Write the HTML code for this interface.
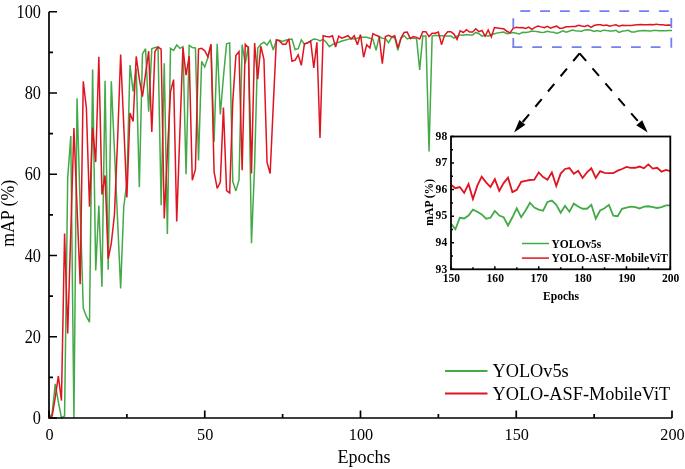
<!DOCTYPE html>
<html><head><meta charset="utf-8"><style>
html,body{margin:0;padding:0;background:#fff;}
body{width:685px;height:469px;overflow:hidden;}
svg{display:block;will-change:transform;}
text{font-family:"Liberation Serif",serif;fill:#000;}
.b{font-weight:bold;}
</style></head><body>
<svg width="685" height="469" viewBox="0 0 685 469">
<rect width="685" height="469" fill="#fff"/>

<polyline fill="none" stroke="#44aa48" stroke-width="1.50" stroke-linejoin="miter" stroke-miterlimit="3" points="49.00,418.00 52.12,413.94 55.23,383.88 58.34,401.75 61.46,418.00 64.58,415.97 67.69,178.31 70.81,136.06 73.92,418.00 77.03,98.28 80.15,206.75 83.27,308.31 86.38,316.44 89.50,322.12 92.61,69.44 95.72,270.53 98.84,205.53 101.95,286.78 105.07,80.81 108.19,269.72 111.30,81.22 114.42,149.88 117.53,218.94 120.64,288.41 123.76,206.75 126.88,182.38 129.99,64.97 133.11,91.37 136.22,68.62 139.33,187.25 142.45,54.00 145.56,48.72 148.68,111.69 151.80,48.72 154.91,47.50 158.03,47.09 161.14,205.12 164.25,63.34 167.37,233.97 170.49,48.31 173.60,50.34 176.72,45.06 179.83,48.31 182.94,46.69 186.06,174.25 189.18,45.47 192.29,47.50 195.41,47.91 198.52,160.44 201.63,61.31 204.75,67.00 207.87,57.66 210.98,44.66 214.09,141.75 217.21,43.84 220.32,114.53 223.44,76.75 226.56,43.84 229.67,43.03 232.78,181.56 235.90,190.91 239.01,179.94 242.13,44.66 245.25,63.34 248.36,46.28 251.47,243.31 254.59,166.12 257.71,48.31 260.82,44.25 263.94,42.22 267.05,45.06 270.16,40.19 273.28,49.94 276.39,40.19 279.51,40.19 282.62,41.41 285.74,40.19 288.86,39.38 291.97,38.97 295.09,49.53 298.20,48.72 301.31,39.78 304.43,44.25 307.55,42.62 310.66,41.00 313.77,38.97 316.89,39.38 320.00,41.00 323.12,39.38 326.24,42.22 329.35,46.69 332.46,44.66 335.58,43.03 338.69,42.22 341.81,41.00 344.93,40.19 348.04,39.38 351.15,38.56 354.27,38.97 357.38,38.16 360.50,37.34 363.62,37.34 366.73,37.34 369.85,38.16 372.96,39.38 376.07,50.34 379.19,36.53 382.31,38.16 385.42,38.56 388.54,42.62 391.65,37.34 394.76,37.75 397.88,50.34 401.00,38.16 404.11,35.72 407.23,38.97 410.34,37.75 413.45,38.16 416.57,38.56 419.69,69.84 422.80,36.12 425.92,36.12 429.03,151.50 432.14,36.12 435.26,35.31 438.38,35.72 441.49,35.72 444.61,36.12 447.72,36.12 450.83,36.12 453.95,38.16 457.06,36.12 460.18,34.91 463.30,35.31 466.41,34.50 469.52,34.91 472.64,34.91 475.75,32.47 478.87,33.69 481.99,36.12 485.10,35.31 488.21,36.12 491.33,34.50 494.44,33.69 497.56,32.88 500.68,32.47 503.79,32.06 506.90,33.69 510.02,33.28 513.13,32.47 516.25,33.20 519.37,34.06 522.48,32.31 525.60,32.42 528.71,31.97 531.83,31.05 534.94,31.37 538.06,31.79 541.17,32.45 544.29,32.31 547.40,31.27 550.51,31.97 553.63,32.23 556.75,33.49 559.86,32.23 562.98,30.87 566.09,32.23 569.21,31.19 572.32,30.01 575.43,30.74 578.55,31.05 581.66,31.23 584.78,29.89 587.89,29.67 591.01,30.33 594.12,31.54 597.24,30.48 600.36,31.37 603.47,30.15 606.59,30.59 609.70,30.93 612.82,30.93 615.93,30.33 619.04,32.43 622.16,31.19 625.27,30.85 628.39,30.33 631.50,31.99 634.62,32.06 637.74,30.93 640.85,30.74 643.97,30.59 647.08,30.67 650.20,30.88 653.31,30.59 656.42,30.54 659.54,30.67 662.65,30.81 665.77,30.67 668.88,30.41 672.00,30.41"/>
<polyline fill="none" stroke="#e01420" stroke-width="1.50" stroke-linejoin="miter" stroke-miterlimit="3" points="49.00,418.00 52.12,415.97 55.23,397.69 58.34,376.16 61.46,400.53 64.58,233.56 67.69,333.50 70.81,231.12 73.92,127.94 77.03,206.75 80.15,284.34 83.27,81.22 86.38,108.03 89.50,206.75 92.61,127.53 95.72,162.06 98.84,56.84 101.95,194.56 105.07,175.47 108.19,258.75 111.30,243.31 114.42,214.88 117.53,141.75 120.64,54.41 123.76,125.50 126.88,197.41 129.99,112.91 133.11,121.44 136.22,56.44 139.33,78.78 142.45,96.66 145.56,73.91 148.68,51.16 151.80,132.00 154.91,51.56 158.03,47.09 161.14,49.12 164.25,218.53 167.37,153.94 170.49,91.78 173.60,79.59 176.72,221.38 179.83,133.62 182.94,47.50 186.06,75.12 189.18,56.03 192.29,180.34 195.41,169.38 198.52,49.12 201.63,48.31 204.75,50.75 207.87,56.84 210.98,44.25 214.09,171.81 217.21,188.47 220.32,181.97 223.44,107.62 226.56,190.50 229.67,192.94 232.78,101.12 235.90,55.62 239.01,51.56 242.13,170.19 245.25,44.25 248.36,47.50 251.47,173.44 254.59,43.03 257.71,79.19 260.82,46.28 263.94,59.28 267.05,162.47 270.16,173.44 273.28,105.19 276.39,39.78 279.51,41.00 282.62,44.25 285.74,44.25 288.86,38.97 291.97,61.31 295.09,60.09 298.20,54.81 301.31,65.38 304.43,43.84 307.55,43.03 310.66,41.00 313.77,67.81 316.89,42.22 320.00,138.09 323.12,35.72 326.24,36.53 329.35,36.94 332.46,35.72 335.58,47.09 338.69,36.12 341.81,38.16 344.93,36.94 348.04,35.72 351.15,38.97 354.27,35.72 357.38,44.66 360.50,34.50 363.62,57.25 366.73,44.66 369.85,47.91 372.96,33.69 376.07,35.31 379.19,36.53 382.31,63.75 385.42,36.53 388.54,35.31 391.65,36.94 394.76,35.72 397.88,47.91 401.00,38.16 404.11,32.47 407.23,32.06 410.34,38.56 413.45,36.53 416.57,37.34 419.69,38.97 422.80,31.66 425.92,31.66 429.03,36.53 432.14,33.28 435.26,33.28 438.38,32.06 441.49,44.66 444.61,35.31 447.72,31.66 450.83,31.66 453.95,34.09 457.06,39.38 460.18,30.84 463.30,32.47 466.41,29.62 469.52,32.06 472.64,32.06 475.75,28.81 478.87,31.66 481.99,30.44 485.10,36.12 488.21,30.03 491.33,36.94 494.44,27.59 497.56,28.00 500.68,28.41 503.79,28.81 506.90,31.25 510.02,32.88 513.13,28.41 516.25,27.26 519.37,27.79 522.48,27.60 525.60,28.49 528.71,27.14 531.83,29.44 534.94,27.40 538.06,26.01 541.17,26.88 544.29,27.60 547.40,26.41 550.51,28.18 553.63,27.00 556.75,26.18 559.86,28.38 562.98,28.05 566.09,26.82 569.21,26.67 572.32,26.53 575.43,26.48 578.55,25.36 581.66,26.08 584.78,26.48 587.89,25.36 591.01,27.45 594.12,25.55 597.24,24.84 600.36,24.70 603.47,25.58 606.59,25.10 609.70,26.22 612.82,25.36 615.93,24.73 619.04,26.22 622.16,25.18 625.27,25.44 628.39,25.49 631.50,25.49 634.62,25.10 637.74,24.84 640.85,24.52 643.97,24.67 647.08,24.66 650.20,24.47 653.31,24.73 656.42,24.14 659.54,24.78 662.65,24.66 665.77,25.26 668.88,25.00 672.00,25.18"/>
<path d="M49.00,11.75 V418.00 H672.00" fill="none" stroke="#000" stroke-width="1.7"/>
<path d="M49.00,418.00 h8 M49.00,377.38 h4 M49.00,336.75 h8 M49.00,296.12 h4 M49.00,255.50 h8 M49.00,214.88 h4 M49.00,174.25 h8 M49.00,133.62 h4 M49.00,93.00 h8 M49.00,52.38 h4 M49.00,11.75 h8 M49.00,418.00 v-7.5 M126.88,418.00 v-4.0 M204.75,418.00 v-7.5 M282.62,418.00 v-4.0 M360.50,418.00 v-7.5 M438.38,418.00 v-4.0 M516.25,418.00 v-7.5 M594.12,418.00 v-4.0 M672.00,418.00 v-7.5" stroke="#000" stroke-width="1.7" fill="none"/>
<text transform="translate(41.00,424.10) scale(0.930,1.100)" font-size="17.50" text-anchor="end">0</text>
<text transform="translate(41.00,342.85) scale(0.930,1.100)" font-size="17.50" text-anchor="end">20</text>
<text transform="translate(41.00,261.60) scale(0.930,1.100)" font-size="17.50" text-anchor="end">40</text>
<text transform="translate(41.00,180.35) scale(0.930,1.100)" font-size="17.50" text-anchor="end">60</text>
<text transform="translate(41.00,99.10) scale(0.930,1.100)" font-size="17.50" text-anchor="end">80</text>
<text transform="translate(41.00,17.85) scale(0.930,1.100)" font-size="17.50" text-anchor="end">100</text>
<text transform="translate(49.50,439.60) scale(0.930,1.000)" font-size="17.50" text-anchor="middle">0</text>
<text transform="translate(205.25,439.60) scale(0.930,1.000)" font-size="17.50" text-anchor="middle">50</text>
<text transform="translate(361.00,439.60) scale(0.930,1.000)" font-size="17.50" text-anchor="middle">100</text>
<text transform="translate(516.75,439.60) scale(0.930,1.000)" font-size="17.50" text-anchor="middle">150</text>
<text transform="translate(672.50,439.60) scale(0.930,1.000)" font-size="17.50" text-anchor="middle">200</text>
<text x="364" y="463.2" font-size="18" text-anchor="middle">Epochs</text>
<text transform="translate(13.8,213.3) rotate(-90)" font-size="17.8" text-anchor="middle">mAP (%)</text>
<line x1="445" y1="371" x2="487.5" y2="371" stroke="#44aa48" stroke-width="1.8"/>
<line x1="445" y1="393.5" x2="487.5" y2="393.5" stroke="#e01420" stroke-width="1.8"/>
<text x="492.5" y="377" font-size="18.3">YOLOv5s</text>
<text x="492.5" y="399.7" font-size="18.3">YOLO-ASF-MobileViT</text>
<g stroke="#7380ef" stroke-width="1.8" fill="none">
<line x1="540.1" y1="11.05" x2="671.6" y2="11.05" stroke-dasharray="9.9 9.9"/>
<line x1="520.3" y1="11.05" x2="530.2" y2="11.05"/>
<line x1="512.5" y1="47.2" x2="662" y2="47.2" stroke-dasharray="9.8 9.95"/>
<line x1="513.3" y1="18.2" x2="513.3" y2="48.1" stroke-dasharray="9.7 10.2"/>
<line x1="671.3" y1="18.0" x2="671.3" y2="48.1" stroke-dasharray="9.9 9.9"/>
</g>
<line x1="579.60" y1="53.30" x2="520.48" y2="124.70" stroke="#000" stroke-width="2" stroke-dasharray="10 9.8"/>
<polygon points="514.10,132.40 519.39,119.90 525.40,124.87" fill="#000"/>
<line x1="579.60" y1="53.30" x2="641.18" y2="125.01" stroke="#000" stroke-width="2" stroke-dasharray="10 9.8"/>
<polygon points="647.70,132.60 636.27,125.28 642.19,120.20" fill="#000"/>
<rect x="451.00" y="136.50" width="219.30" height="132.80" fill="#fff" stroke="none"/>
<polyline fill="none" stroke="#44aa48" stroke-width="1.8" points="451.00,223.60 455.39,229.21 459.77,217.78 464.16,218.49 468.54,215.58 472.93,209.57 477.32,211.67 481.70,214.38 486.09,218.69 490.47,217.78 494.86,210.97 499.25,215.58 503.63,217.28 508.02,225.50 512.40,217.28 516.79,208.36 521.18,217.28 525.56,210.47 529.95,202.75 534.33,207.56 538.72,209.57 543.11,210.77 547.49,201.95 551.88,200.54 556.26,204.85 560.65,212.77 565.04,205.86 569.42,211.67 573.81,203.65 578.19,206.56 582.58,208.76 586.97,208.76 591.35,204.85 595.74,218.59 600.12,210.47 604.51,208.26 608.90,204.85 613.28,215.68 617.67,216.18 622.05,208.76 626.44,207.56 630.83,206.56 635.21,207.06 639.60,208.46 643.98,206.56 648.37,206.26 652.76,207.06 657.14,207.96 661.53,207.06 665.91,205.36 670.30,205.36"/>
<polyline fill="none" stroke="#e01420" stroke-width="1.8" points="451.00,184.81 455.39,188.22 459.77,187.01 464.16,192.83 468.54,184.01 472.93,199.04 477.32,185.71 481.70,176.59 486.09,182.30 490.47,187.01 494.86,179.20 499.25,190.82 503.63,183.11 508.02,177.69 512.40,192.13 516.79,189.92 521.18,181.90 525.56,180.90 529.95,180.00 534.33,179.70 538.72,172.38 543.11,177.09 547.49,179.70 551.88,172.38 556.26,186.01 560.65,173.58 565.04,168.97 569.42,168.07 573.81,173.78 578.19,170.68 582.58,177.99 586.97,172.38 591.35,168.27 595.74,177.99 600.12,171.18 604.51,172.88 608.90,173.18 613.28,173.18 617.67,170.68 622.05,168.97 626.44,166.87 630.83,167.87 635.21,167.77 639.60,166.57 643.98,168.27 648.37,164.36 652.76,168.57 657.14,167.77 661.53,171.68 665.91,169.98 670.30,171.18"/>
<rect x="451.00" y="136.50" width="219.30" height="132.80" fill="none" stroke="#000" stroke-width="1.8"/>
<path d="M451.00,269.30 h3 M451.00,256.02 h2 M451.00,242.74 h3 M451.00,229.46 h2 M451.00,216.18 h3 M451.00,202.90 h2 M451.00,189.62 h3 M451.00,176.34 h2 M451.00,163.06 h3 M451.00,149.78 h2 M451.00,136.50 h3 M451.00,269.30 v-3 M472.93,269.30 v-2 M494.86,269.30 v-3 M516.79,269.30 v-2 M538.72,269.30 v-3 M560.65,269.30 v-2 M582.58,269.30 v-3 M604.51,269.30 v-2 M626.44,269.30 v-3 M648.37,269.30 v-2 M670.30,269.30 v-3" stroke="#000" stroke-width="1.5" fill="none"/>
<text class="b" transform="translate(447.2,272.60) scale(1,1.120)" font-size="11.60" text-anchor="end">93</text>
<text class="b" transform="translate(447.2,246.04) scale(1,1.120)" font-size="11.60" text-anchor="end">94</text>
<text class="b" transform="translate(447.2,219.48) scale(1,1.120)" font-size="11.60" text-anchor="end">95</text>
<text class="b" transform="translate(447.2,192.92) scale(1,1.120)" font-size="11.60" text-anchor="end">96</text>
<text class="b" transform="translate(447.2,166.36) scale(1,1.120)" font-size="11.60" text-anchor="end">97</text>
<text class="b" transform="translate(447.2,139.80) scale(1,1.120)" font-size="11.60" text-anchor="end">98</text>
<text class="b" transform="translate(451.40,281.6) scale(1,1.120)" font-size="11.60" text-anchor="middle">150</text>
<text class="b" transform="translate(495.26,281.6) scale(1,1.120)" font-size="11.60" text-anchor="middle">160</text>
<text class="b" transform="translate(539.12,281.6) scale(1,1.120)" font-size="11.60" text-anchor="middle">170</text>
<text class="b" transform="translate(582.98,281.6) scale(1,1.120)" font-size="11.60" text-anchor="middle">180</text>
<text class="b" transform="translate(626.84,281.6) scale(1,1.120)" font-size="11.60" text-anchor="middle">190</text>
<text class="b" transform="translate(670.70,281.6) scale(1,1.120)" font-size="11.60" text-anchor="middle">200</text>
<text class="b" x="561" y="300.3" font-size="11.6" text-anchor="middle">Epochs</text>
<text class="b" transform="translate(432.7,202.3) rotate(-90)" font-size="11.6" text-anchor="middle">mAP (%)</text>
<line x1="521.9" y1="243.5" x2="549" y2="243.5" stroke="#44aa48" stroke-width="1.5"/>
<line x1="521.9" y1="258.1" x2="549" y2="258.1" stroke="#e01420" stroke-width="1.5"/>
<text class="b" x="551.4" y="247.6" font-size="11.5">YOLOv5s</text>
<text class="b" x="551.4" y="261.7" font-size="11.5">YOLO-ASF-MobileViT</text>
</svg>
</body></html>
